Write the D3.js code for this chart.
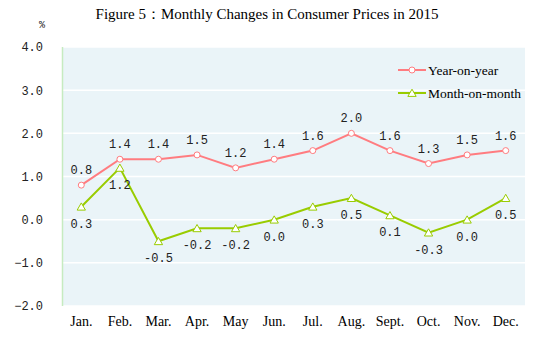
<!DOCTYPE html>
<html>
<head>
<meta charset="utf-8">
<script src="https://cdn.jsdelivr.net/npm/d3@7"></script>
<style>
  body { margin: 0; background: #fff; }
  .num { font-family: "Liberation Mono", "DejaVu Sans Mono", monospace; font-size: 12px; fill: #222; }
  .serif { font-family: "Liberation Serif", "Times New Roman", serif; fill: #000; }
</style>
</head>
<body>
<div id="chart"></div>
<script>
'use strict';

const months = ['Jan.', 'Feb.', 'Mar.', 'Apr.', 'May', 'Jun.', 'Jul.', 'Aug.', 'Sept.', 'Oct.', 'Nov.', 'Dec.'];
const yearOnYear = [0.8, 1.4, 1.4, 1.5, 1.2, 1.4, 1.6, 2.0, 1.6, 1.3, 1.5, 1.6];
const monthOnMonth = [0.3, 1.2, -0.5, -0.2, -0.2, 0.0, 0.3, 0.5, 0.1, -0.3, 0.0, 0.5];
const yTicks = [-2, -1, 0, 1, 2, 3, 4];
const seriesNames = ['Year-on-year', 'Month-on-month'];

(function() {
    let width = 553, height = 340,
        margin = { top: 47, right: 28, bottom: 34, left: 62 };

    let svg = d3.select('#chart')
        .append('svg')
        .attr('width', width)
        .attr('height', height);

    let x = d3.scaleBand()
        .domain(months)
        .range([margin.left, width - margin.right]);

    let y = d3.scaleLinear()
        .domain([-2, 4])
        .range([height - margin.bottom, margin.top]);

    // title
    svg.append('text')
        .attr('class', 'serif')
        .attr('x', 267)
        .attr('y', 19)
        .attr('text-anchor', 'middle')
        .style('font-size', '15px')
        .text('Figure 5：Monthly Changes in Consumer Prices in 2015');

    svg.append('text')
        .attr('class', 'num')
        .attr('x', 42)
        .attr('y', 28)
        .attr('text-anchor', 'middle')
        .style('font-size', '10px')
        .text('%');

    // plot background
    svg.append('rect')
        .attr('x', margin.left)
        .attr('y', margin.top)
        .attr('width', x.range()[1] - margin.left)
        .attr('height', y(-2) - y(4))
        .attr('fill', '#EAF4F8');

    // gridlines
    svg.append('g')
        .selectAll('line')
        .data(yTicks)
        .enter().append('line')
        .attr('x1', margin.left)
        .attr('x2', x.range()[1])
        .attr('y1', d => y(d))
        .attr('y2', d => y(d))
        .attr('stroke', '#fff')
        .attr('stroke-width', 1.5);

    // left axis line
    svg.append('line')
        .attr('x1', margin.left + 0.5)
        .attr('x2', margin.left + 0.5)
        .attr('y1', y(4))
        .attr('y2', y(-2))
        .attr('stroke', '#C6EBC0')
        .attr('stroke-width', 1.5);

    // y labels
    let yAxis = d3.axisLeft(y)
        .tickValues(yTicks)
        .tickSize(0)
        .tickPadding(19)
        .tickFormat(d3.format('.1f'));
    let ya = svg.append('g')
        .attr('transform', 'translate(' + margin.left + ',0)')
        .call(yAxis);
    ya.select('.domain').remove();
    ya.selectAll('text').attr('class', 'num').attr('fill', null);

    // x labels
    let xAxis = d3.axisBottom(x).tickSize(0).tickPadding(10);
    let xa = svg.append('g')
        .attr('transform', 'translate(0,' + y(-2) + ')')
        .call(xAxis);
    xa.select('.domain').remove();
    xa.selectAll('text')
        .attr('class', 'serif')
        .attr('fill', null)
        .style('font-size', '14px');

    const cx = (d, i) => x(months[i]) + x.bandwidth() / 2;
    const line = d3.line().x(cx).y(d => y(d));

    const yoyColor = '#FF7C80';
    const momColor = '#99CC00';
    const tri = d3.symbol().type(d3.symbolTriangle).size(30);

    // Year-on-year
    svg.append('path')
        .datum(yearOnYear)
        .attr('d', line)
        .attr('fill', 'none')
        .attr('stroke', yoyColor)
        .attr('stroke-width', 2);
    svg.append('g').selectAll('circle')
        .data(yearOnYear)
        .enter().append('circle')
        .attr('cx', cx)
        .attr('cy', d => y(d))
        .attr('r', 3)
        .attr('fill', '#fff')
        .attr('stroke', yoyColor)
        .attr('stroke-width', 1);
    svg.append('g').selectAll('text')
        .data(yearOnYear)
        .enter().append('text')
        .attr('class', 'num')
        .attr('x', cx)
        .attr('y', d => y(d) - 11)
        .attr('text-anchor', 'middle')
        .text(d => d.toFixed(1));

    // Month-on-month
    svg.append('path')
        .datum(monthOnMonth)
        .attr('d', line)
        .attr('fill', 'none')
        .attr('stroke', momColor)
        .attr('stroke-width', 2);
    svg.append('g').selectAll('path')
        .data(monthOnMonth)
        .enter().append('path')
        .attr('d', tri)
        .attr('transform', (d, i) => 'translate(' + cx(d, i) + ',' + (y(d) + 1) + ')')
        .attr('fill', '#fff')
        .attr('stroke', momColor)
        .attr('stroke-width', 1);
    svg.append('g').selectAll('text')
        .data(monthOnMonth)
        .enter().append('text')
        .attr('class', 'num')
        .attr('x', cx)
        .attr('y', d => y(d) + 21)
        .attr('text-anchor', 'middle')
        .text(d => d.toFixed(1));

    // legend
    let legend = svg.append('g');
    [yoyColor, momColor].forEach(function(c, i) {
        let ly = 70 + i * 23;
        legend.append('line')
            .attr('x1', 398).attr('x2', 426)
            .attr('y1', ly).attr('y2', ly)
            .attr('stroke', c).attr('stroke-width', 2);
        if (i === 0) {
            legend.append('circle')
                .attr('cx', 412).attr('cy', ly).attr('r', 3)
                .attr('fill', '#fff').attr('stroke', c);
        } else {
            legend.append('path')
                .attr('d', tri)
                .attr('transform', 'translate(412,' + (ly + 1) + ')')
                .attr('fill', '#fff').attr('stroke', c);
        }
        legend.append('text')
            .attr('class', 'serif')
            .attr('x', 428)
            .attr('y', ly + 5)
            .style('font-size', '13.5px')
            .text(seriesNames[i]);
    });
})();
</script>
</body>
</html>
